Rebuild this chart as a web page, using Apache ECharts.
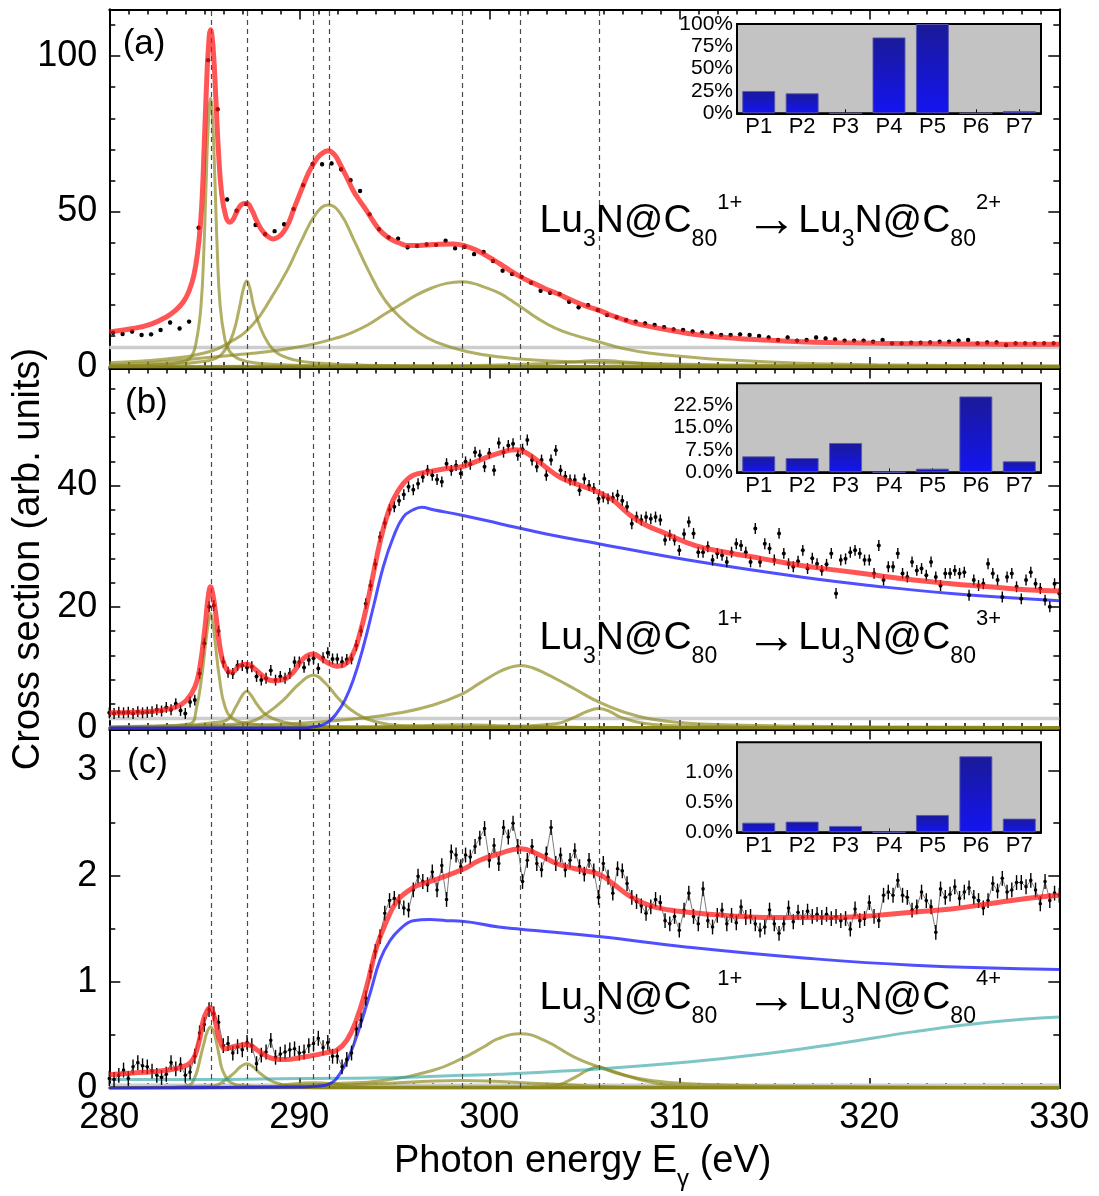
<!DOCTYPE html>
<html><head><meta charset="utf-8">
<script src="https://cdn.jsdelivr.net/npm/echarts@6/dist/echarts.min.js"></script>
<style>html,body{margin:0;padding:0;background:#fff}#c{width:1099px;height:1196px}</style>
</head><body><div id="c"></div>
<script>
const FONT = 'Liberation Sans, Arial, Helvetica, sans-serif';

// ---------- shared ----------
const peakE = [285.35, 287.25, 290.75, 291.55, 298.55, 301.65, 305.8];
const peakNames = ['P1','P2','P3','P4','P5','P6','P7'];
const panelTags = ['(a)','(b)','(c)'];
const finalCharges = ['2+','3+','4+'];
const yMajorA = [0,50,100], yMinorA = [10,20,30,40,60,70,80,90,110];
const yMajorB = [0,20,40], yMinorB = [4,8,12,16,24,28,32,36,44,48,52,56];
const yMajorC = [0,1,2,3], yMinorC = [0.5,1.5,2.5];

// ---------- panel (a) ----------
const aStart = 280.2, aStep = 0.5, aErr = 0.6;
const aData = [11.0,10.6,11.4,10.3,10.5,11.9,14.3,12.4,14.6,44.8,
 98.7,82.9,53.9,50.3,52.4,45.7,42.7,43.7,45.9,50.8,
 58.5,65.3,65.2,65.5,63.6,60.1,56.6,49.1,44.3,41.7,
 41.3,38.5,38.9,39.4,39.3,40.6,38.2,38.7,36.3,37.0,
 34.1,31.0,29.9,29.0,27.1,24.5,23.9,23.5,21.0,19.2,
 19.9,18.3,16.7,16.0,15.1,14.6,14.0,13.5,12.8,12.1,
 11.9,11.4,11.1,10.8,10.3,10.3,10.5,10.3,10.0,9.5,
 8.7,9.5,8.5,8.7,9.5,9.2,8.9,8.5,8.5,8.5,
 8.1,8.7,7.6,7.6,7.8,7.8,7.9,8.1,8.1,8.5,
 8.7,7.6,7.9,7.9,7.1,7.6,7.6,7.6,7.6,7.6];
const aFit = [[280,11.3],[281.26,12.4],[282.2,13.8],[283.0,16.1],[283.5,18.3],[283.9,21.0],[284.2,24.5],[284.45,29.5],[284.65,37],[284.8,46],[284.9,56],[285.0,72],[285.1,88],[285.2,101],[285.33,108.5],[285.47,102],[285.61,86],[285.74,70],[285.91,56],[286.14,48.3],[286.35,46.6],[286.5,47.3],[286.7,49.8],[286.95,52.2],[287.23,52.7],[287.5,50.5],[287.75,47.1],[288.0,44.3],[288.28,42.3],[288.63,41.2],[288.9,41.8],[289.16,43.4],[289.45,46.5],[289.68,50.3],[289.95,54.5],[290.2,58.3],[290.45,62],[290.74,65.3],[291.1,68.2],[291.53,69.6],[291.85,68.3],[292.14,65.3],[292.5,61],[292.84,56.7],[293.2,53.3],[293.54,50.3],[293.9,46.8],[294.25,43.9],[294.6,42],[294.95,40.7],[295.3,39.8],[295.65,39.1],[296.3,39.1],[297.05,39.4],[298.1,39.6],[298.8,38.8],[299.3,37.6],[299.68,36.4],[300.1,34.9],[300.56,33.2],[301.1,31.0],[301.65,29.0],[302.1,27.6],[302.54,26.4],[303.0,25.0],[303.53,23.7],[304.0,22.4],[304.52,21.0],[305.1,19.6],[305.75,18.3],[306.3,16.9],[306.9,15.6],[307.6,14.2],[308.48,13.0],[309.5,11.8],[310.46,10.8],[311.5,10.0],[312.44,9.5],[313.4,9.0],[314.42,8.7],[316.4,8.1],[318.4,7.8],[320.36,7.6],[322.3,7.5],[324.32,7.4],[327,7.35],[330,7.3]];
const aP1 = [[280,0.4],[282.8,0.8],[283.8,1.6],[284.3,3.2],[284.6,9],[284.83,20],[284.98,38],[285.09,58],[285.21,78],[285.33,86.4],[285.45,78],[285.57,58],[285.68,38],[285.83,20],[286.08,9],[286.33,5],[286.83,2.5],[287.8,1.2],[290.3,0.5],[295,0.2],[330,0.05]];
const aP2 = [[280,0.3],[283.5,0.9],[284.7,1.6],[285.6,2.8],[286.13,5.8],[286.53,11],[286.88,20],[287.05,25],[287.23,27.7],[287.41,25],[287.58,20],[287.93,13],[288.33,8],[288.83,4.5],[289.73,2.3],[290.93,1.3],[293.5,0.6],[300,0.25],[330,0.05]];
const aP3 = [[280,0],[330,0]];
const aP4 = [[280,1.4],[283,2.6],[285,4.5],[286.5,8.5],[287.6,14],[288.5,22],[289.4,31.5],[290.1,40.5],[290.9,49.5],[291.53,52.1],[292.15,49.5],[292.9,40.5],[293.6,31.5],[294.4,22.5],[295.3,16],[296.3,11],[297.2,8],[298.8,5],[300.6,3.2],[303,2],[306.5,1.3],[312,0.7],[320,0.4],[330,0.25]];
const aP5 = [[280,0.6],[282.5,1.5],[284.77,2.8],[286.5,3.8],[288.28,4.9],[289.7,6.2],[290.9,7.6],[292.0,9.4],[292.67,10.8],[293.6,13.5],[294.42,16.7],[295.3,20],[296.18,23.2],[297.0,25.5],[297.75,26.9],[298.55,27.4],[299.15,26.9],[299.7,25.8],[300.56,23.7],[301.1,21.6],[301.65,19.4],[302.5,15.8],[303.5,12.4],[304.6,10],[305.75,8.1],[307,6.0],[308.5,4.4],[310.5,3.2],[312.4,2.3],[316.4,1.2],[320.4,0.7],[325,0.45],[330,0.3]];
const aP6 = [[280,0],[330,0]];
const aP7 = [[280,0.1],[295,0.4],[300,0.6],[303,1.1],[304.8,1.8],[305.8,2.2],[306.8,1.8],[308.6,1.0],[312,0.5],[320,0.2],[330,0.1]];
const aBg = [[280,6.3],[330,6.3]];
const shareA = [25, 22.4, 0, 85, 100, 0, 2.6];

// ---------- panel (b) ----------
const bStart = 280, bStep = 0.25, bErr = 0.9;
const bData = [2.5,2.4,2.6,2.5,2.6,2.4,2.7,2.5,2.6,2.7,3.0,2.8,3.4,3.0,4.0,2.9,2.4,4.3,4.6,9.0,
 14.0,20.0,20.2,16.0,10.9,9.2,9.0,10.3,10.3,10.0,10.1,8.5,7.9,8.2,9.5,7.9,8.5,8.2,9.0,10.9,
 10.9,10.0,11.2,11.5,9.8,11.6,12.4,11.4,11.4,10.9,11.3,11.4,13.6,16.0,20.5,23.5,27.0,31.5,33.8,36.0,
 36.5,37.5,38.5,39.8,39.3,40.3,41.4,42.5,41.7,41.0,40.6,43.6,42.5,43.3,42.0,43.9,43.5,45.5,45.0,43.1,
 45.3,42.5,47.0,45.5,46.6,46.9,45.0,46.0,47.5,44.2,43.1,44.2,41.7,44.2,45.8,42.5,41.5,40.9,40.9,39.2,
 41.1,40.0,39.5,37.8,38.1,37.8,38.0,38.4,37.5,36.5,33.7,34.8,34.3,34.8,34.5,34.8,34.3,31.0,31.8,31.0,
 29.3,32.0,34.0,32.1,29.0,29.0,29.9,27.7,28.8,28.5,27.4,29.0,30.4,30.1,29.0,27.4,32.9,27.4,30.4,29.6,
 27.7,32.1,28.8,27.1,26.6,27.5,29.3,26.3,28.0,27.1,26.0,27.0,28.8,22.2,27.7,27.9,29.0,29.3,28.8,27.7,
 27.7,25.5,30.1,24.4,26.6,26.6,28.8,25.5,24.9,27.4,26.0,26.3,25.2,27.4,24.9,23.5,25.5,25.5,26.0,25.5,
 25.7,21.9,24.4,23.5,23.8,27.1,25.5,24.4,21.6,24.9,25.5,23.3,21.3,24.4,25.7,23.8,23.0,21.1,20.0,23.8,
 22.2];
const bFit = [[280,2.5],[281.26,2.6],[282.67,2.9],[283.54,3.5],[284.07,4.6],[284.51,6.8],[284.77,10.1],[285.04,16.7],[285.2,21.5],[285.33,23.3],[285.46,21.8],[285.6,18.9],[285.82,13.4],[286.09,10.1],[286.44,9.2],[286.88,10.3],[287.23,10.5],[287.75,9.5],[288.28,8.1],[288.63,7.8],[289.16,8.0],[289.68,9.2],[290.2,11.4],[290.74,12.2],[291.18,11.4],[291.53,10.7],[291.96,10.2],[292.4,10.5],[292.84,12.3],[293.19,15.6],[293.54,20.0],[293.9,25.5],[294.25,30.7],[294.6,34.8],[294.95,37.7],[295.47,40.3],[296.0,41.7],[296.7,42.2],[297.75,42.8],[298.55,43.1],[299.5,44.2],[300.47,45.3],[301.35,45.9],[301.65,45.8],[302.14,45.0],[302.94,43.1],[303.7,41.4],[304.52,40.3],[305.75,38.9],[306.5,37.6],[307.3,35.4],[308.1,33.7],[309.26,32.1],[310.85,30.1],[312.44,29.0],[314.42,27.9],[316.4,26.8],[318.37,26.0],[320.36,25.2],[322.34,24.4],[324.3,23.8],[326.3,23.3],[328.26,22.8],[330,22.6]];
const bEdge = [[280,0],[290.3,0],[290.74,0.2],[291.1,0.4],[291.53,1.0],[291.96,2.4],[292.4,4.6],[292.84,7.9],[293.37,13.4],[293.9,20.0],[294.42,26.6],[294.95,31.5],[295.47,34.8],[296.0,36.0],[296.44,36.4],[297.05,36.0],[298.55,35.1],[300.56,33.7],[303,32.0],[305.75,30.4],[310.46,27.7],[316.4,24.9],[320.36,23.4],[324.3,22.2],[330,21.0]];
const bP1 = [[280,0.2],[283,0.4],[284.25,0.7],[284.6,3.5],[284.86,8.4],[285.09,14.5],[285.22,17.5],[285.33,18.9],[285.44,17.5],[285.56,14.5],[285.79,8.4],[286.09,3.5],[286.53,1.5],[287.4,0.7],[289.16,0.3],[295,0.1],[330,0.02]];
const bP2 = [[280,0.1],[284,0.4],[285.5,0.9],[286.18,1.3],[286.7,3.7],[287.0,5.4],[287.23,6.05],[287.46,5.4],[287.75,4.0],[288.28,2.1],[289.16,1.0],[290.4,0.4],[295,0.1],[330,0.02]];
const bP3 = [[280,0.1],[285,0.4],[287.4,1.0],[288.28,2.4],[289.16,4.6],[290.0,7.3],[290.74,8.7],[291.4,7.3],[292.14,4.6],[293.0,2.4],[294.07,1.0],[295.3,0.4],[300,0.1],[330,0.02]];
const bP4 = [[280,0],[330,0]];
const bP5 = [[280,0],[292,0.1],[296,0.35],[298.55,0.55],[301,0.35],[305,0.1],[330,0]];
const bP6 = [[280,0.1],[286,0.35],[290,0.8],[293.5,1.7],[295.3,2.5],[297.05,3.8],[298.55,5.6],[299.5,7.4],[300.47,9.2],[301.0,9.9],[301.65,10.3],[302.3,9.9],[302.94,9.0],[303.7,7.8],[304.52,6.4],[305.75,4.3],[307.1,2.6],[308.5,1.5],[310.46,0.8],[314.4,0.4],[320,0.2],[330,0.1]];
const bP7 = [[280,0],[300,0.2],[303.5,0.7],[304.5,1.8],[305.2,2.8],[305.75,3.2],[306.3,2.8],[306.9,1.8],[308.1,0.8],[310.5,0.3],[320,0.05],[330,0]];
const bBg = [[280,1.55],[330,1.55]];
const shareB = [5.37, 4.8, 9.85, 0, 1.23, 25.5, 3.7];

// ---------- panel (c) ----------
const cStart = 280, cStep = 0.25, cErr = 0.07;
const cData = [0.09,0.08,0.12,0.17,0.09,0.20,0.24,0.21,0.20,0.16,0.12,0.10,0.13,0.24,0.18,0.22,0.12,0.15,0.30,0.52,
 0.60,0.74,0.70,0.62,0.40,0.42,0.33,0.39,0.36,0.43,0.40,0.23,0.31,0.34,0.45,0.29,0.32,0.34,0.36,0.37,
 0.33,0.34,0.40,0.42,0.47,0.38,0.43,0.30,0.30,0.20,0.27,0.33,0.56,0.64,0.85,1.10,1.29,1.43,1.65,1.77,
 1.79,1.76,1.70,1.68,1.87,2.00,1.95,1.92,2.04,1.87,2.10,1.78,2.23,2.20,2.09,2.20,2.18,2.28,2.36,2.45,
 2.15,2.29,2.12,2.46,2.37,2.50,2.28,1.95,2.15,2.28,2.12,2.06,2.21,2.46,2.12,2.20,2.06,2.15,2.24,2.09,
 2.02,2.15,2.05,1.80,2.12,1.99,1.84,2.07,2.05,1.93,1.80,1.76,1.72,1.65,1.71,1.78,1.75,1.58,1.55,1.62,
 1.49,1.68,1.84,1.62,1.55,1.88,1.58,1.52,1.63,1.68,1.55,1.63,1.56,1.71,1.61,1.62,1.55,1.49,1.52,1.68,
 1.55,1.46,1.55,1.70,1.57,1.66,1.61,1.67,1.62,1.64,1.61,1.64,1.60,1.62,1.58,1.60,1.50,1.69,1.58,1.60,
 1.75,1.62,1.58,1.82,1.85,1.82,1.96,1.82,1.80,1.68,1.71,1.85,1.77,1.71,1.47,1.88,1.80,1.83,1.90,1.79,
 1.85,1.89,1.80,1.77,1.70,1.77,1.93,1.86,1.98,1.85,1.87,1.94,1.94,1.90,1.96,1.87,1.74,1.95,1.77,1.84,
 1.82];
const cFit = [[280,0.125],[281.26,0.142],[283.0,0.167],[284.07,0.214],[284.4,0.27],[284.6,0.356],[284.8,0.5],[284.95,0.64],[285.15,0.73],[285.3,0.76],[285.45,0.72],[285.56,0.64],[285.7,0.53],[285.82,0.45],[286.09,0.37],[286.53,0.39],[287.23,0.41],[287.93,0.34],[288.63,0.277],[289.33,0.268],[290.0,0.286],[290.74,0.308],[291.44,0.334],[291.96,0.356],[292.5,0.45],[293.0,0.64],[293.54,0.954],[294.07,1.33],[294.6,1.58],[295.12,1.76],[295.65,1.85],[296.18,1.91],[297.05,1.96],[298.55,2.06],[299.5,2.15],[300.47,2.21],[301.65,2.26],[302.54,2.21],[303.53,2.12],[304.52,2.07],[305.75,2.02],[306.5,1.93],[307.5,1.80],[308.5,1.72],[309.5,1.68],[310.46,1.66],[312.44,1.63],[314.4,1.61],[316.4,1.61],[318.4,1.61],[320.36,1.63],[322.3,1.66],[324.3,1.69],[326.3,1.74],[328.26,1.79],[330,1.82]];
const cEdge = [[280,0],[290,0.01],[290.9,0.016],[291.6,0.04],[292.14,0.135],[292.67,0.32],[293.19,0.58],[293.72,0.89],[294.25,1.21],[294.77,1.39],[295.3,1.5],[296.0,1.58],[296.88,1.59],[297.75,1.58],[298.55,1.575],[300.5,1.52],[301.65,1.50],[305.75,1.43],[310.46,1.33],[316.4,1.23],[322.3,1.16],[330,1.12]];
const cTail = [[280,0.08],[284.77,0.08],[290,0.09],[295.3,0.10],[298.55,0.12],[300.5,0.13],[305.75,0.18],[310.46,0.245],[314.4,0.32],[318.4,0.42],[322.3,0.53],[326.3,0.62],[330,0.67]];
const cP1 = [[280,0.005],[283.5,0.01],[284.2,0.025],[284.5,0.1],[284.68,0.2],[284.85,0.33],[284.98,0.42],[285.15,0.53],[285.33,0.576],[285.5,0.53],[285.65,0.42],[285.78,0.31],[285.9,0.2],[286.08,0.12],[286.26,0.07],[286.6,0.035],[286.88,0.025],[288,0.01],[290,0.005],[330,0]];
const cP2 = [[280,0],[285.5,0.02],[285.82,0.04],[286.53,0.135],[286.9,0.2],[287.23,0.23],[287.56,0.2],[287.93,0.14],[288.63,0.057],[289.5,0.02],[291,0],[330,0]];
const cP3 = [[280,0],[288.5,0.01],[289.5,0.035],[290.74,0.05],[292,0.035],[293,0.01],[330,0]];
const cP4 = [[280,0],[330,0]];
const cP5 = [[280,0],[290,0.01],[294,0.04],[298.55,0.07],[303,0.04],[307,0.01],[330,0]];
const cP6 = [[280,0],[288,0.01],[291.8,0.04],[294.4,0.07],[297.05,0.167],[298.55,0.277],[299.7,0.387],[300.47,0.466],[301.65,0.513],[302.9,0.45],[304.5,0.29],[305.75,0.2],[307.1,0.12],[308.5,0.072],[310.5,0.04],[314.4,0.02],[330,0]];
const cP7 = [[280,0],[302,0.01],[303.5,0.025],[304.5,0.1],[305.2,0.17],[305.75,0.2],[306.3,0.17],[306.9,0.135],[308.1,0.07],[309.5,0.025],[311,0.01],[330,0]];
const cBg = [[280,0.025],[330,0.025]];
const shareC = [0.161, 0.178, 0.106, 0, 0.289, 1.267, 0.228];

// ---------- build ----------
const RED = 'rgba(255,20,20,0.72)', OLIVE = 'rgba(140,136,30,0.68)', BLUE = 'rgba(20,20,255,0.75)', CYAN = 'rgba(40,160,160,0.6)', GRAY = '#cdcdcd';
const panels = [
  {top:9.5, height:357.5, max:115, majors:yMajorA, minors:yMinorA},
  {top:368.5, height:359.5, max:59.3, majors:yMajorB, minors:yMinorB},
  {top:729.5, height:358.5, max:3.385, majors:yMajorC, minors:yMinorC}
];
const GL = 109.3, GW = 950;
const grid = [], xAxis = [], yAxis = [], series = [], graphic = [];
const blk = {color:'#000', width:1.5};

panels.forEach((p,i)=>{
  grid.push({left:GL, top:p.top, width:GW, height:p.height, containLabel:false, outerBoundsMode:'none'});
  const xb = {type:'value', gridIndex:i, min:280, max:330, interval:10,
    axisLine:{show:true, onZero:false, lineStyle:{color:'#000', width:2}},
    axisTick:{show:true, inside:true, length:10, lineStyle:blk},
    minorTick:{show:true, splitNumber:10, length:5, lineStyle:blk},
    splitLine:{show:false}, minorSplitLine:{show:false}};
  xAxis.push(Object.assign({}, xb, {position:'bottom', axisLabel:{show:i===2, fontSize:36, color:'#000', fontFamily:FONT, margin:12}}));
  xAxis.push(Object.assign({}, xb, {position:'top', axisLabel:{show:false}}));
  const yb = {type:'value', gridIndex:i, min:0, max:p.max, splitLine:{show:false},
    axisLine:{show:true, onZero:false, lineStyle:{color:'#000', width:2}}};
  ['left','right'].forEach(side=>{
    yAxis.push(Object.assign({}, yb, {position:side,
      axisTick:{show:true, inside:true, length:11, customValues:p.majors, lineStyle:blk},
      axisLabel:{show:side==='left', customValues:p.majors, fontSize:36, color:'#000', fontFamily:FONT, margin:12}}));
    yAxis.push(Object.assign({}, yb, {position:side,
      axisTick:{show:true, inside:true, length:6, customValues:p.minors, lineStyle:blk},
      axisLabel:{show:false}}));
  });
});

function curve(i, data, color, width, z, extra){
  return Object.assign({type:'line', xAxisIndex:2*i, yAxisIndex:4*i, data:data, showSymbol:false, symbol:'none',
    smooth:0.45, lineStyle:{color:color, width:width}, z:z, silent:true, animation:false}, extra||{});
}
function points(i, start, step, vals, err, r, bw){
  const d = vals.map((v,k)=>[Math.round((start+k*step)*1000)/1000, v, err]);
  return {type:'custom', xAxisIndex:2*i, yAxisIndex:4*i, data:d, encode:{x:0,y:1}, z:6, silent:true, animation:false,
    renderItem:function(params, api){
      const x=api.value(0), y=api.value(1), e=api.value(2);
      const c=api.coord([x,y]), lo=api.coord([x,y-e]), hi=api.coord([x,y+e]);
      return {type:'group', children:[
        {type:'line', shape:{x1:c[0],y1:lo[1],x2:c[0],y2:hi[1]}, style:{stroke:'#000', lineWidth:bw}},
        {type:'circle', shape:{cx:c[0],cy:c[1],r:r}, style:{fill:'#000'}}]};
    }};
}
function dashes(){
  return {silent:true, symbol:['none','none'], label:{show:false}, animation:false,
    lineStyle:{type:[5,4], color:'#4a4a4a', width:1.2}, data:peakE.map(e=>({xAxis:e}))};
}

// panel a
series.push(curve(0, aBg, GRAY, 3.5, 1, {markLine:dashes()}));
[aP1,aP2,aP3,aP4,aP5,aP6,aP7].forEach(c=>series.push(curve(0, c, OLIVE, 3, 3)));
series.push(points(0, aStart, aStep, aData, aErr, 2.2, 1.2));
series.push(curve(0, aFit, RED, 5, 8));
// panel b
series.push(curve(1, bBg, GRAY, 3.5, 1, {markLine:dashes()}));
[bP1,bP2,bP3,bP4,bP5,bP6,bP7].forEach(c=>series.push(curve(1, c, OLIVE, 3, 3)));
series.push(curve(1, bEdge, BLUE, 3, 4));
series.push(points(1, bStart, bStep, bData, bErr, 2, 1.4));
series.push(curve(1, bFit, RED, 5, 8));
// panel c
series.push(curve(2, cBg, GRAY, 3.5, 1, {markLine:dashes()}));
[cP1,cP2,cP3,cP4,cP5,cP6,cP7].forEach(c=>series.push(curve(2, c, OLIVE, 3, 3)));
series.push(curve(2, cTail, CYAN, 3, 4));
series.push(curve(2, cEdge, BLUE, 3, 4));
series.push(curve(2, cData.map((v,k)=>[Math.round((cStart+k*cStep)*1000)/1000, v]), '#444', 0.7, 5, {smooth:false}));
series.push(points(2, cStart, cStep, cData, cErr, 1.8, 1.4));
series.push(curve(2, cFit, RED, 5, 8));

// insets
const insets = [
  {top:24, height:89.3, max:100, labels:[0,25,50,75,100], fmt:v=>v+'%', data:shareA},
  {top:383.3, height:89, max:29.9, labels:[0,7.5,15,22.5], fmt:v=>v.toFixed(1)+'%', data:shareB},
  {top:742.3, height:90, max:1.5, labels:[0,0.5,1.0], fmt:v=>v.toFixed(1)+'%', data:shareC}
];
insets.forEach((ins,k)=>{
  const gi = 3+k;
  grid.push({left:737, top:ins.top, width:304, height:ins.height, show:true, backgroundColor:'#c3c3c3', borderColor:'#000', borderWidth:2, containLabel:false, outerBoundsMode:'none'});
  xAxis.push({type:'category', gridIndex:gi, data:peakNames,
    axisLine:{show:true, lineStyle:{color:'#000', width:2}},
    axisTick:{show:true, inside:true, alignWithLabel:true, length:4, lineStyle:{color:'#000', width:1}},
    axisLabel:{fontSize:22, color:'#000', fontFamily:FONT, margin:3}, splitLine:{show:false}});
  yAxis.push({type:'value', gridIndex:gi, min:0, max:ins.max,
    axisLine:{show:true, onZero:false, lineStyle:{color:'#000', width:2}}, axisTick:{show:false}, splitLine:{show:false},
    axisLabel:{customValues:ins.labels, formatter:ins.fmt, fontSize:21, color:'#000', fontFamily:FONT, margin:4}});
  series.push({type:'bar', xAxisIndex:6+k, yAxisIndex:12+k, data:ins.data, barWidth:'76%', silent:true, animation:false, z:5,
    itemStyle:{borderColor:'rgba(90,90,170,0.9)', borderWidth:1,
      color:{type:'linear', x:0, y:0, x2:0, y2:1, colorStops:[{offset:0, color:'#1a1a98'},{offset:1, color:'#1414f2'}]}}});
});

// texts
const formulaMid = [221.5, 638.2, 998.2];
formulaMid.forEach((ym,i)=>{
  graphic.push({type:'text', x:539.5, y:ym, silent:true, z:100,
    style:{text:'{m|Lu}{s|3}{m|N@C}{s|80}{p|1+}{a|\u2192}{m|Lu}{s|3}{m|N@C}{s|80}{p|'+finalCharges[i]+'}',
      align:'left', verticalAlign:'middle', fill:'#000', fontSize:39, fontFamily:FONT,
      rich:{m:{fontSize:39, fontFamily:FONT, lineHeight:60, verticalAlign:'middle', fill:'#000'},
            a:{fontSize:52, fontFamily:FONT, lineHeight:60, verticalAlign:'middle', fill:'#000', padding:[0,1,0,3]},
            s:{fontSize:23, fontFamily:FONT, lineHeight:25.6, verticalAlign:'bottom', fill:'#000'},
            p:{fontSize:22, fontFamily:FONT, lineHeight:36.4, verticalAlign:'top', fill:'#000'}}}});
});
const tagPos = [[122.7,44.6],[125,403.8],[127,763.8]];
tagPos.forEach((t,i)=>{
  graphic.push({type:'text', x:t[0], y:t[1], silent:true, z:100,
    style:{text:panelTags[i], fontSize:35, fontFamily:FONT, fill:'#000', align:'left', verticalAlign:'middle'}});
});
graphic.push({type:'text', x:28.5, y:559, rotation:Math.PI/2, silent:true, z:100,
  style:{text:'Cross section (arb. units)', fontSize:38, fontFamily:FONT, fill:'#000', align:'center', verticalAlign:'middle'}});
graphic.push({type:'text', x:394, y:1161.8, silent:true, z:100,
  style:{text:'{m|Photon energy E}{s|\u03b3}{m| (eV)}', align:'left', verticalAlign:'middle', fill:'#000', fontSize:38, fontFamily:FONT,
    rich:{m:{fontSize:38, fontFamily:FONT, lineHeight:60, verticalAlign:'middle', fill:'#000'},
          s:{fontSize:24, fontFamily:FONT, lineHeight:20.2, verticalAlign:'bottom', fill:'#000'}}}});

const chart = echarts.init(document.getElementById('c'), null, {renderer:'canvas'});
chart.setOption({animation:false, backgroundColor:'#fff', grid, xAxis, yAxis, series, graphic});
</script></body></html>
